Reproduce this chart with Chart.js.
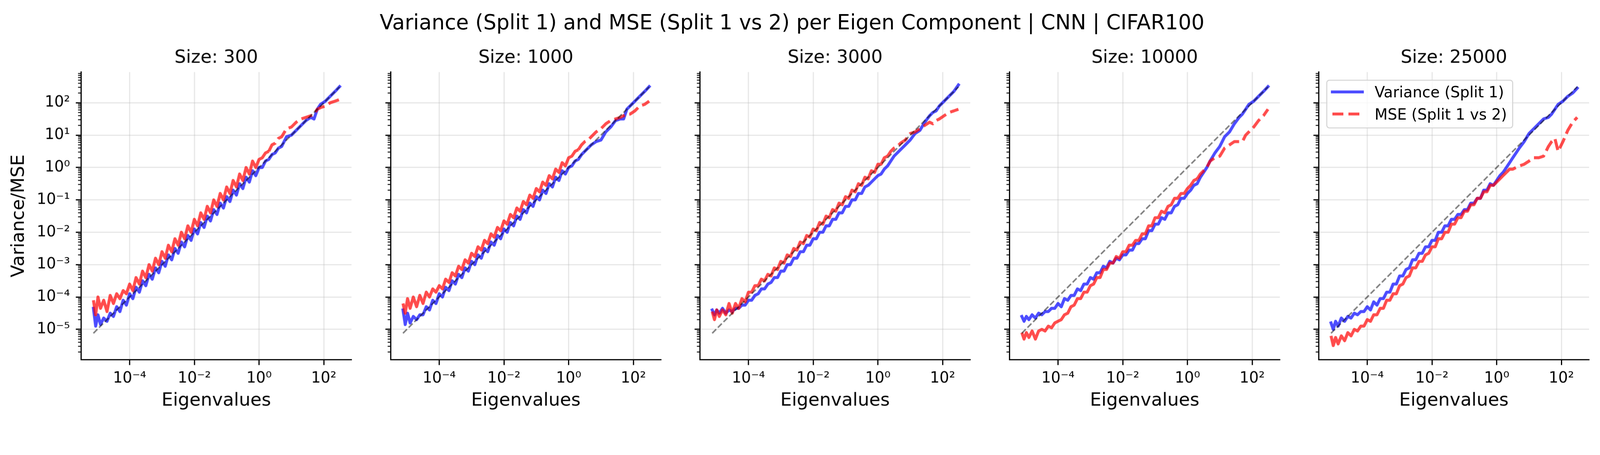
<!DOCTYPE html>
<html>
<head>
<meta charset="utf-8">
<title>Variance and MSE per Eigen Component</title>
<script src="https://cdn.jsdelivr.net/npm/chart.js@4.4.1/dist/chart.umd.min.js"></script>
<style>
  html, body { margin: 0; padding: 0; background: #fff; overflow: hidden; }
  #page { position: absolute; left: 0; top: 0; width: 4424px; height: 1164px; transform-origin: 0 0;
          font-family: "DejaVu Sans", sans-serif; color: #000; background: #fff; }
  #suptitle { position: absolute; left: 0; top: 33px; width: 4380px; text-align: center; font-size: 57px; line-height: 57px; white-space: nowrap; }
  canvas { position: absolute; top: 100px; }
  #legend { position: absolute; left: 3667px; top: 220px; width: 517px; height: 135px; box-sizing: border-box;
            border: 3.3px solid rgba(204,204,204,0.8); border-radius: 9px; background: rgba(255,255,255,0.8); z-index: 5; }
  #legend .handle { position: absolute; height: 8.3px; }
  #legend .var { left: 9.7px; top: 26.5px; width: 91px; background: rgba(0,0,255,0.7); }
  #legend .mse { left: 13.7px; top: 87.5px; width: 83px;
                 background: repeating-linear-gradient(to right, rgba(255,0,0,0.7) 0 30.8px, transparent 30.8px 44.1px); }
  #legend .label { position: absolute; left: 130.7px; font-size: 41.7px; line-height: 41.7px; white-space: nowrap; }
</style>
</head>
<body>
<div id="page">
  <div id="suptitle">Variance (Split 1) and MSE (Split 1 vs 2) per Eigen Component | CNN | CIFAR100</div>
  <div id="panels"></div>
  <div id="legend">
    <div class="handle var"></div><div class="label" style="top:10.7px">Variance (Split 1)</div>
    <div class="handle mse"></div><div class="label" style="top:71.7px">MSE (Split 1 vs 2)</div>
  </div>
</div>
<script>
// dataset sizes, one panel each
const sizes = [300, 1000, 3000, 10000, 25000];

// eigenvalues (x) shared by every panel
const eigenvalues = [
  7.6e-6, 8.91e-6, 1.05e-5, 1.26e-5, 1.58e-5, 2e-5, 2.51e-5, 3.16e-5, 3.98e-5, 5.01e-5,
  6.31e-5, 7.94e-5, 1e-4, 1.26e-4, 1.58e-4, 2e-4, 2.51e-4, 3.16e-4, 3.98e-4, 5.01e-4,
  6.31e-4, 7.94e-4, 1e-3, 1.26e-3, 1.58e-3, 2e-3, 2.51e-3, 3.16e-3, 3.98e-3, 5.01e-3,
  6.31e-3, 7.94e-3, 0.01, 0.0126, 0.0158, 0.02, 0.0251, 0.0316, 0.0398, 0.0501,
  0.0631, 0.0794, 0.1, 0.126, 0.158, 0.2, 0.251, 0.316, 0.398, 0.501,
  0.631, 0.794, 1, 1.26, 1.58, 2, 2.51, 3.16, 3.98, 5.01,
  7.08, 10, 14.1, 20, 28.2, 39.8, 50.1, 63.1, 79.4, 112,
  158, 224, 309
];

// Size 300
const var300 = [
  4.47e-5, 1.26e-5, 2.82e-5, 1.41e-5, 2.24e-5, 1.78e-5, 3.16e-5, 2.51e-5, 5.01e-5, 3.55e-5,
  7.94e-5, 5.62e-5, 1.26e-4, 8.91e-5, 2e-4, 1.41e-4, 3.16e-4, 2.24e-4, 5.01e-4, 3.55e-4,
  7.94e-4, 5.62e-4, 1.26e-3, 8.91e-4, 2e-3, 1.41e-3, 3.16e-3, 2.24e-3, 5.01e-3, 3.55e-3,
  7.94e-3, 5.62e-3, 0.0126, 8.91e-3, 0.02, 0.0141, 0.0316, 0.0224, 0.0501, 0.0355,
  0.0794, 0.0562, 0.126, 0.0891, 0.2, 0.141, 0.316, 0.224, 0.501, 0.355,
  0.794, 0.562, 1, 1, 1.58, 1.78, 2.51, 2.82, 3.98, 4.47,
  8.91, 10, 14.1, 20, 28.2, 35.5, 31.6, 63.1, 89.1, 112,
  158, 224, 316
];
const mse300 = [
  7.94e-5, 2.82e-5, 1e-4, 4.47e-5, 7.94e-5, 3.55e-5, 1.12e-4, 6.31e-5, 1.26e-4, 8.91e-5,
  1.58e-4, 1.26e-4, 2.51e-4, 1.58e-4, 3.98e-4, 2.51e-4, 6.31e-4, 3.98e-4, 1e-3, 6.31e-4,
  1.58e-3, 1e-3, 2.51e-3, 1.58e-3, 3.98e-3, 2.51e-3, 6.31e-3, 3.98e-3, 0.01, 6.31e-3,
  0.0158, 0.01, 0.0251, 0.0158, 0.0398, 0.0251, 0.0631, 0.0398, 0.1, 0.0631,
  0.158, 0.1, 0.251, 0.158, 0.398, 0.251, 0.631, 0.398, 1, 0.631,
  1.58, 1, 1.78, 2, 2.82, 3.16, 5.01, 5.62, 7.94, 8.91,
  15.8, 17.8, 25.1, 31.6, 35.5, 39.8, 44.7, 63.1, 70.8, 79.4,
  100, 112, 126
];

// Size 1000
const var1000 = [
  3.98e-5, 1.41e-5, 3.16e-5, 1.58e-5, 2.51e-5, 2e-5, 2.82e-5, 2.82e-5, 5.01e-5, 3.98e-5,
  7.94e-5, 6.31e-5, 1.26e-4, 1e-4, 2e-4, 1.58e-4, 3.16e-4, 2.51e-4, 5.01e-4, 3.98e-4,
  7.94e-4, 6.31e-4, 1.26e-3, 1e-3, 2e-3, 1.58e-3, 3.16e-3, 2.51e-3, 5.01e-3, 3.98e-3,
  7.94e-3, 6.31e-3, 0.0126, 0.01, 0.02, 0.0158, 0.0316, 0.0251, 0.0501, 0.0398,
  0.0794, 0.0631, 0.126, 0.1, 0.2, 0.158, 0.316, 0.251, 0.501, 0.398,
  0.794, 0.631, 1, 1.12, 1.58, 1.78, 2.51, 3.16, 3.98, 5.01,
  6.31, 7.08, 12.6, 17.8, 28.2, 31.6, 31.6, 63.1, 79.4, 112,
  158, 224, 316
];
const mse1000 = [
  6.31e-5, 3.16e-5, 8.91e-5, 4.47e-5, 1e-4, 5.01e-5, 1.12e-4, 6.31e-5, 1.41e-4, 1e-4,
  1.78e-4, 1.41e-4, 2.24e-4, 1.78e-4, 3.55e-4, 2.82e-4, 5.62e-4, 4.47e-4, 8.91e-4, 7.08e-4,
  1.41e-3, 1.12e-3, 2.24e-3, 1.78e-3, 3.55e-3, 2.82e-3, 5.62e-3, 4.47e-3, 8.91e-3, 7.08e-3,
  0.0141, 0.0112, 0.0224, 0.0178, 0.0355, 0.0282, 0.0562, 0.0447, 0.0891, 0.0708,
  0.141, 0.112, 0.224, 0.178, 0.355, 0.282, 0.562, 0.447, 0.891, 0.708,
  1.41, 1.12, 2, 2.24, 3.16, 3.55, 5.01, 6.31, 7.08, 8.91,
  12.6, 15.8, 22.4, 28.2, 31.6, 35.5, 39.8, 44.7, 44.7, 56.2,
  79.4, 89.1, 112
];

// Size 3000
const var3000 = [
  3.98e-5, 2.82e-5, 3.98e-5, 3.16e-5, 4.47e-5, 3.16e-5, 3.98e-5, 3.55e-5, 4.47e-5, 4.47e-5,
  5.62e-5, 5.62e-5, 7.94e-5, 7.94e-5, 1.12e-4, 1.26e-4, 1.78e-4, 1.78e-4, 2.51e-4, 2.82e-4,
  3.98e-4, 3.98e-4, 6.31e-4, 6.31e-4, 1e-3, 1e-3, 1.58e-3, 1.58e-3, 2.51e-3, 2.51e-3,
  3.98e-3, 3.98e-3, 6.31e-3, 6.31e-3, 0.01, 0.01, 0.0158, 0.0158, 0.0251, 0.0251,
  0.0398, 0.0398, 0.0631, 0.0631, 0.1, 0.1, 0.158, 0.158, 0.251, 0.282,
  0.355, 0.447, 0.562, 0.631, 0.891, 1.12, 1.58, 2.24, 2.82, 3.55,
  5.01, 7.08, 11.2, 14.1, 25.1, 39.8, 50.1, 56.2, 79.4, 112,
  158, 224, 355
];
const mse3000 = [
  3.55e-5, 2e-5, 3.98e-5, 2.51e-5, 3.98e-5, 2.82e-5, 6.31e-5, 3.16e-5, 6.31e-5, 4.47e-5,
  8.91e-5, 7.08e-5, 1.41e-4, 1.41e-4, 2.24e-4, 2.24e-4, 3.55e-4, 3.16e-4, 5.01e-4, 4.47e-4,
  7.94e-4, 7.08e-4, 1.26e-3, 1.12e-3, 2e-3, 1.78e-3, 3.16e-3, 2.82e-3, 5.01e-3, 4.47e-3,
  7.94e-3, 7.08e-3, 0.0126, 0.0112, 0.02, 0.0178, 0.0316, 0.0282, 0.0501, 0.0447,
  0.0794, 0.0708, 0.126, 0.112, 0.2, 0.178, 0.316, 0.282, 0.501, 0.447,
  0.794, 0.708, 1.26, 1.26, 2, 2.24, 3.16, 3.98, 4.47, 5.62,
  7.08, 11.2, 12.6, 15.8, 20, 25.1, 22.4, 28.2, 31.6, 39.8,
  50.1, 56.2, 63.1
];

// Size 10000
const var10000 = [
  2.51e-5, 1.78e-5, 2.51e-5, 2e-5, 2.82e-5, 2.24e-5, 3.16e-5, 2.82e-5, 3.55e-5, 3.55e-5,
  4.47e-5, 4.47e-5, 6.31e-5, 5.01e-5, 8.91e-5, 7.94e-5, 1.12e-4, 1.12e-4, 1.78e-4, 1.58e-4,
  2.51e-4, 2.51e-4, 3.98e-4, 3.55e-4, 5.62e-4, 5.62e-4, 8.91e-4, 7.94e-4, 1.26e-3, 1.12e-3,
  1.58e-3, 1.41e-3, 2e-3, 2e-3, 2.82e-3, 2.82e-3, 4.47e-3, 4.47e-3, 6.31e-3, 6.31e-3,
  0.0112, 0.0112, 0.0178, 0.0178, 0.0282, 0.0251, 0.0398, 0.0398, 0.0631, 0.0708,
  0.112, 0.112, 0.158, 0.2, 0.282, 0.316, 0.501, 0.708, 1, 1.58,
  2.82, 4.47, 8.91, 12.6, 22.4, 35.5, 44.7, 63.1, 89.1, 112,
  158, 224, 316
];
const mse10000 = [
  7.94e-6, 5.01e-6, 7.94e-6, 5.62e-6, 8.91e-6, 5.01e-6, 8.91e-6, 1e-5, 8.91e-6, 1.26e-5,
  1.12e-5, 1.58e-5, 1.78e-5, 2e-5, 2.82e-5, 3.16e-5, 5.01e-5, 5.62e-5, 8.91e-5, 8.91e-5,
  1.41e-4, 1.41e-4, 2.24e-4, 2.51e-4, 3.98e-4, 3.98e-4, 7.08e-4, 7.08e-4, 1.12e-3, 1.12e-3,
  1.78e-3, 1.58e-3, 2.51e-3, 2.51e-3, 3.98e-3, 3.98e-3, 5.62e-3, 5.62e-3, 8.91e-3, 8.91e-3,
  0.0158, 0.0158, 0.0282, 0.0282, 0.0447, 0.0398, 0.0631, 0.0708, 0.112, 0.112,
  0.158, 0.158, 0.224, 0.282, 0.398, 0.447, 0.631, 0.794, 1, 1.58,
  2, 2.24, 3.98, 5.01, 6.31, 6.31, 6.31, 10, 12.6, 17.8,
  28.2, 39.8, 63.1
];

// Size 25000
const var25000 = [
  1.58e-5, 1e-5, 1.78e-5, 1.26e-5, 2.24e-5, 1.78e-5, 2.51e-5, 2.24e-5, 3.16e-5, 2.82e-5,
  3.55e-5, 3.55e-5, 5.01e-5, 3.98e-5, 7.08e-5, 5.62e-5, 8.91e-5, 8.91e-5, 1.41e-4, 1.41e-4,
  2.51e-4, 2.51e-4, 4.47e-4, 4.47e-4, 7.08e-4, 7.94e-4, 1.41e-3, 1.41e-3, 2.24e-3, 2.24e-3,
  3.55e-3, 3.55e-3, 5.62e-3, 5.62e-3, 0.01, 0.01, 0.0158, 0.0158, 0.0251, 0.0251,
  0.0355, 0.0355, 0.0501, 0.0501, 0.0794, 0.0794, 0.112, 0.112, 0.2, 0.2,
  0.316, 0.282, 0.398, 0.562, 0.708, 1, 1.41, 2, 2.82, 3.98,
  6.31, 11.2, 15.8, 22.4, 31.6, 35.5, 44.7, 63.1, 89.1, 112,
  158, 200, 282
];
const mse25000 = [
  6.31e-6, 3.16e-6, 5.62e-6, 3.55e-6, 6.31e-6, 4.47e-6, 7.94e-6, 6.31e-6, 1e-5, 8.91e-6,
  1.26e-5, 1.26e-5, 2e-5, 1.78e-5, 2.82e-5, 2.82e-5, 4.47e-5, 4.47e-5, 7.94e-5, 7.94e-5,
  1.26e-4, 1.26e-4, 2.24e-4, 2.51e-4, 3.98e-4, 4.47e-4, 7.94e-4, 7.94e-4, 1.26e-3, 1.26e-3,
  2e-3, 2.24e-3, 3.55e-3, 3.55e-3, 6.31e-3, 6.31e-3, 0.01, 0.01, 0.0178, 0.0178,
  0.0282, 0.0282, 0.0447, 0.0447, 0.0708, 0.0708, 0.112, 0.112, 0.178, 0.178,
  0.282, 0.282, 0.355, 0.447, 0.562, 0.708, 0.891, 0.891, 1, 1.12,
  1.26, 1.58, 2, 2, 2.24, 4.47, 6.31, 7.94, 3.16, 6.31,
  14.1, 25.1, 35.5
];

const varianceBySize = [var300, var1000, var3000, var10000, var25000];
const mseBySize = [mse300, mse1000, mse3000, mse10000, mse25000];

// axes
const xLimits = [3.16e-6, 720];
const yLimits = [1.15e-6, 890];
const xTicks = [1e-4, 1e-2, 1, 100];
const xTickLabels = ["10\u207B\u2074", "10\u207B\u00B2", "10\u2070", "10\u00B2"];
const yTicks = [1e-5, 1e-4, 1e-3, 1e-2, 1e-1, 1, 10, 100];
const yTickLabels = ["10\u207B\u2075", "10\u207B\u2074", "10\u207B\u00B3", "10\u207B\u00B2",
                     "10\u207B\u00B9", "10\u2070", "10\u00B9", "10\u00B2"];
const yDecades = [1e-6, 1e-5, 1e-4, 1e-3, 1e-2, 1e-1, 1, 10, 100];
const yMinorSteps = [2, 3, 4, 5, 6, 7, 8, 9];

// layout, in picture pixels
const PAGE_W = 4424;
const PANEL_STEP = 855.5;
const AXIS_W = 224;
const PLOT_W = 747;
const RIGHT_PAD = 30;
const CANVAS_H = 1064;
const XAXIS_H = 170;

const BLUE = "rgba(0,0,255,0.7)";
const RED = "rgba(255,0,0,0.7)";
const GREY = "rgba(0,0,0,0.5)";
const GRID = "rgba(176,176,176,0.3)";
const MSE_DASH = [30.8, 13.3];
const DASH_FROM = 2; // the red line only reads as dashed where components are sparse

// fit the 4424px layout to whatever the viewport really is
const fit = window.innerWidth / PAGE_W;
document.getElementById("page").style.transform = "scale(" + fit + ")";
const pixelRatio = (window.devicePixelRatio || 1) * fit;

Chart.defaults.font.family = "'DejaVu Sans', sans-serif";
Chart.defaults.color = "#000";

function yTickList() {
  const list = yTicks.map(v => ({ value: v, major: true }));
  yDecades.forEach(d => yMinorSteps.forEach(s => {
    const v = d * s;
    if (v > yLimits[0] && v < yLimits[1]) list.push({ value: v, major: false });
  }));
  return list.sort((a, b) => a.value - b.value);
}

// short minor tick marks on the y axis
const minorTickMarks = {
  id: "minorTickMarks",
  afterDraw(chart) {
    const axis = chart.scales.y;
    const ctx = chart.ctx;
    ctx.save();
    ctx.strokeStyle = "#000";
    ctx.lineWidth = 2.5;
    axis.ticks.forEach(t => {
      if (t.major) return;
      const py = axis.getPixelForValue(t.value);
      ctx.beginPath();
      ctx.moveTo(axis.right - 8.3, py);
      ctx.lineTo(axis.right, py);
      ctx.stroke();
    });
    ctx.restore();
  }
};

function points(ys) {
  return eigenvalues.map((x, i) => ({ x: x, y: ys[i] }));
}

function makePanel(index) {
  const first = index === 0;
  const canvas = document.createElement("canvas");
  canvas.width = AXIS_W + PLOT_W + RIGHT_PAD;
  canvas.height = CANVAS_H;
  canvas.style.left = Math.round(PANEL_STEP * index) + "px";
  document.getElementById("panels").appendChild(canvas);

  const last = eigenvalues.length - 1;

  return new Chart(canvas, {
    type: "line",
    data: {
      datasets: [
        {
          label: "Variance (Split 1)",
          data: points(varianceBySize[index]),
          borderColor: BLUE,
          borderWidth: 8.3,
          borderCapStyle: "square",
          borderJoinStyle: "round",
          pointRadius: 0,
          tension: 0,
          order: 2
        },
        {
          label: "MSE (Split 1 vs 2)",
          data: points(mseBySize[index]),
          borderColor: RED,
          borderWidth: 8.3,
          borderJoinStyle: "round",
          borderDash: [],
          segment: { borderDash: ctx => (ctx.p0.parsed.x >= DASH_FROM ? MSE_DASH : undefined) },
          pointRadius: 0,
          tension: 0,
          order: 1
        },
        {
          label: "y = x",
          data: [
            { x: eigenvalues[0], y: eigenvalues[0] },
            { x: eigenvalues[last], y: eigenvalues[last] }
          ],
          borderColor: GREY,
          borderWidth: 4.2,
          borderDash: [15.4, 6.7],
          pointRadius: 0,
          order: 0
        }
      ]
    },
    options: {
      responsive: false,
      animation: false,
      devicePixelRatio: pixelRatio,
      events: [],
      layout: { padding: { left: 0, right: RIGHT_PAD, top: 0, bottom: 0 } },
      plugins: {
        legend: { display: false },
        tooltip: { enabled: false },
        title: {
          display: true,
          text: "Size: " + sizes[index],
          fullSize: false,
          color: "#000",
          font: { size: 50, weight: "normal" },
          padding: { top: 30, bottom: 9 }
        }
      },
      scales: {
        x: {
          type: "logarithmic",
          min: xLimits[0],
          max: xLimits[1],
          afterBuildTicks: axis => { axis.ticks = xTicks.map(v => ({ value: v, major: true })); },
          afterFit: axis => { axis.height = XAXIS_H; },
          ticks: {
            autoSkip: false,
            maxRotation: 0,
            padding: 13,
            color: "#000",
            font: { size: 41.7 },
            callback: v => xTickLabels[xTicks.indexOf(v)]
          },
          grid: { color: GRID, lineWidth: 3.3, tickLength: 14.6, tickWidth: 3.3, tickColor: "#000" },
          border: { display: true, color: "#000", width: 3.3 },
          title: {
            display: true,
            text: "Eigenvalues",
            color: "#000",
            font: { size: 50 },
            padding: { top: 0, bottom: 26 }
          }
        },
        y: {
          type: "logarithmic",
          min: yLimits[0],
          max: yLimits[1],
          afterBuildTicks: axis => { axis.ticks = yTickList(); },
          afterFit: axis => { axis.width = AXIS_W; },
          ticks: {
            autoSkip: false,
            padding: 16,
            color: "#000",
            font: { size: 41.7 },
            callback: (v, i, ticks) => (first && ticks[i].major ? yTickLabels[yTicks.indexOf(v)] : "")
          },
          grid: {
            color: ctx => (ctx.tick && ctx.tick.major ? GRID : "rgba(0,0,0,0)"),
            lineWidth: 3.3,
            tickLength: 14.6,
            tickWidth: 3.3,
            tickColor: ctx => (ctx.tick && ctx.tick.major ? "#000" : "rgba(0,0,0,0)")
          },
          border: { display: true, color: "#000", width: 3.3 },
          title: {
            display: first,
            text: "Variance/MSE",
            color: "#000",
            font: { size: 50 },
            padding: { top: 23, bottom: 0 }
          }
        }
      }
    },
    plugins: [minorTickMarks]
  });
}

sizes.forEach((s, i) => makePanel(i));
</script>
</body>
</html>
